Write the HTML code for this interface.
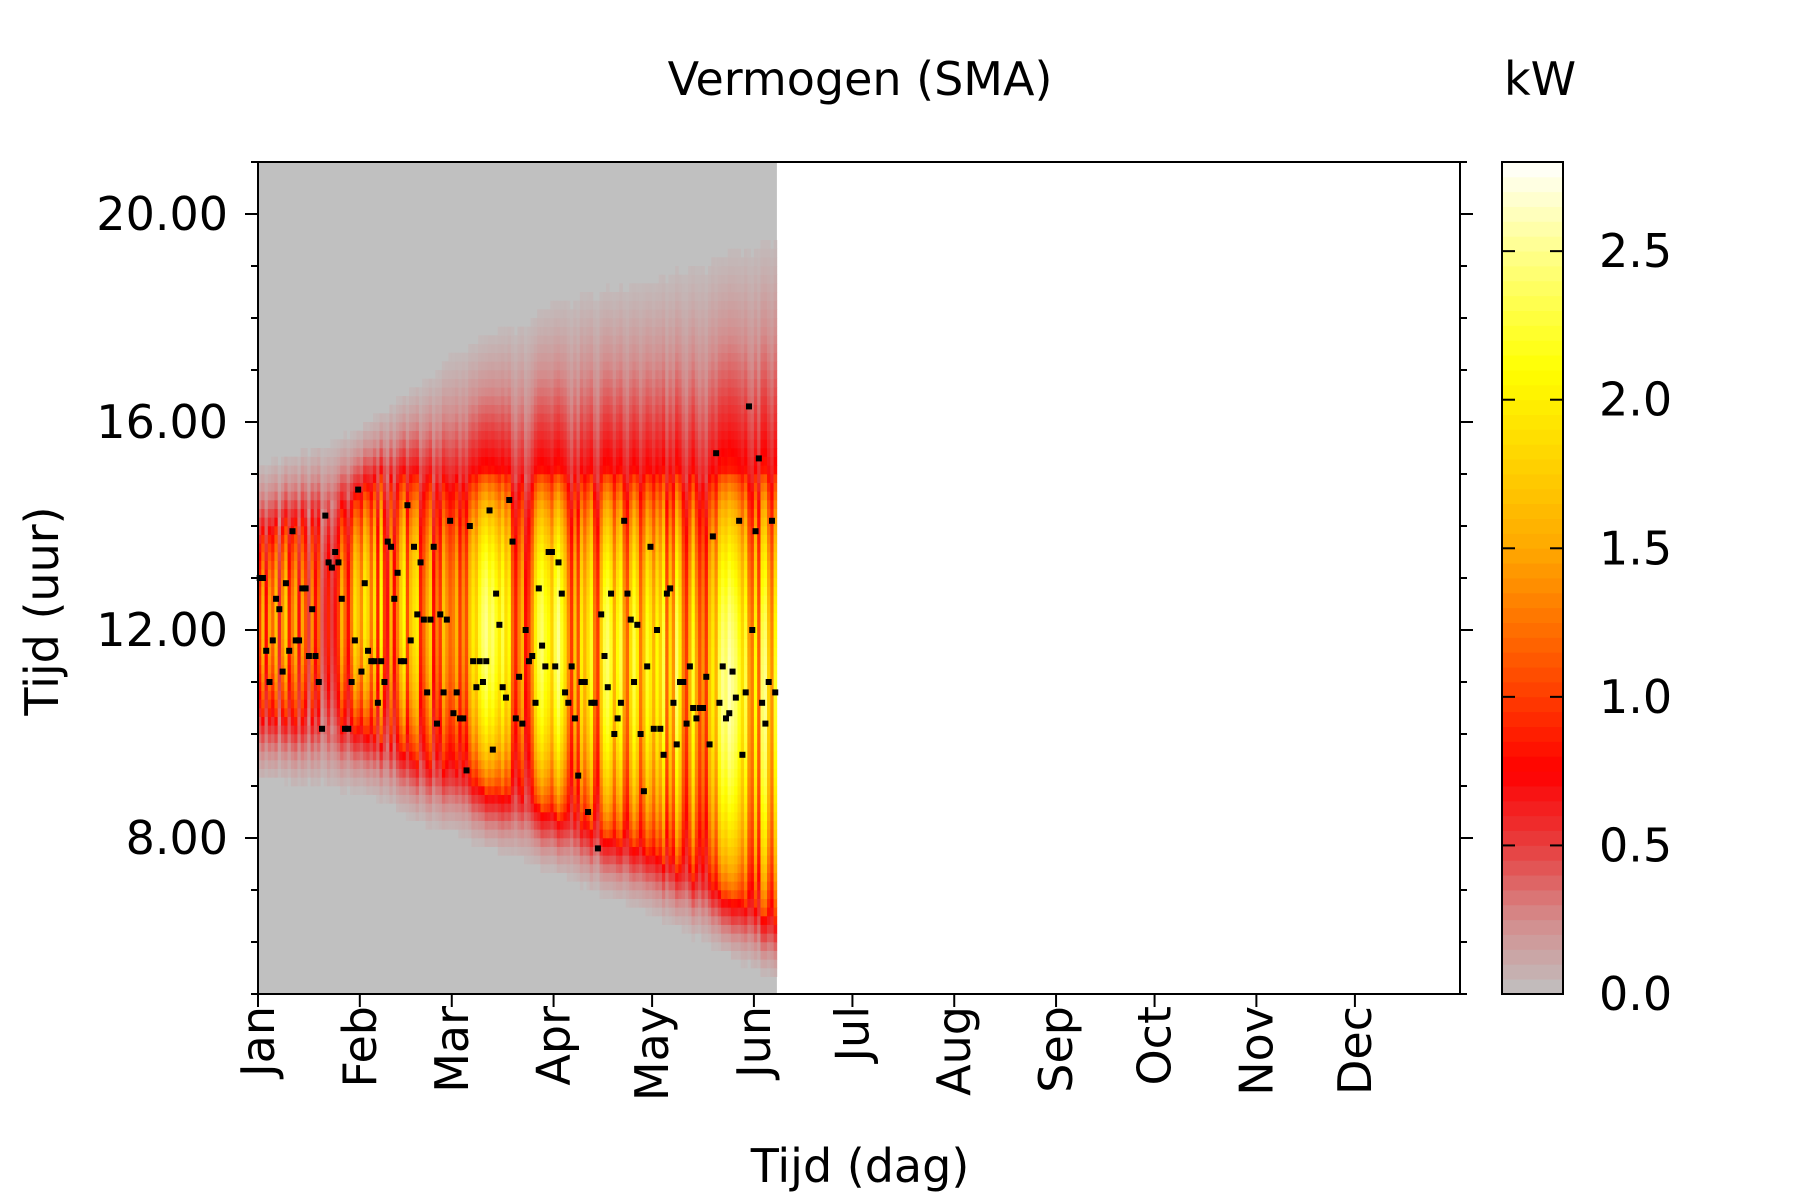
<!DOCTYPE html>
<html><head><meta charset="utf-8"><style>
html,body{margin:0;padding:0;background:#fff}
svg{display:block;font-family:"DejaVu Sans","Liberation Sans",sans-serif}
</style></head><body>
<svg id="chart" width="1800" height="1200" viewBox="0 0 1800 1200" xmlns="http://www.w3.org/2000/svg">
<text x="860" y="95" font-size="46" text-anchor="middle">Vermogen (SMA)</text>
<text x="1540" y="95" font-size="46" text-anchor="middle">kW</text>
<text transform="translate(58,611) rotate(-90)" font-size="46" text-anchor="middle">Tijd (uur)</text>
<text x="860" y="1182" font-size="46" text-anchor="middle">Tijd (dag)</text>
<g id="cells"></g>
<g id="dots"></g>
<g id="axes"></g>
<g id="cbar"></g>
</svg>
<script>
const months = ["Jan","Feb","Mar","Apr","May","Jun","Jul","Aug","Sep","Oct","Nov","Dec"];
const monthStartDays = [0,31,59,90,120,151,181,212,243,273,304,334];
const yTickHours = [8,12,16,20];
const yTickLabels = ["8.00","12.00","16.00","20.00"];
const cbarTicks = [0,0.5,1,1.5,2,2.5];
const cbarTickLabels = ["0.0","0.5","1.0","1.5","2.0","2.5"];
const riseHours = [8.9,8.9,8.9,8.9,8.9,8.9,8.9,8.9,8.9,8.9,8.8,8.8,8.8,8.8,8.8,8.8,8.8,8.8,8.8,8.8,8.8,8.7,8.7,8.7,8.7,8.7,8.7,8.7,8.7,8.7,8.7,
8.7,8.7,8.6,8.6,8.6,8.5,8.5,8.5,8.4,8.4,8.4,8.3,8.3,8.3,8.2,8.2,8.2,8.1,8.1,8.1,8.0,8.0,8.0,8.0,7.9,7.9,7.9,7.9,
7.9,7.9,7.8,7.8,7.8,7.8,7.7,7.7,7.7,7.7,7.6,7.6,7.6,7.6,7.5,7.5,7.5,7.5,7.4,7.4,7.4,7.4,7.3,7.3,7.3,7.3,7.3,7.2,7.2,7.2,7.2,
7.2,7.1,7.1,7.1,7.0,7.0,7.0,6.9,6.9,6.9,6.9,6.8,6.8,6.8,6.7,6.7,6.7,6.7,6.6,6.6,6.6,6.6,6.5,6.5,6.5,6.5,6.4,6.4,6.4,6.4,
6.3,6.3,6.3,6.2,6.2,6.2,6.1,6.1,6.1,6.0,6.0,6.0,5.9,5.9,5.9,5.8,5.8,5.8,5.7,5.7,5.7,5.6,5.6,5.6,5.5,5.5,5.5,5.4,5.4,5.4,5.3,
5.3,5.3,5.2,5.2,5.2,5.1,5.1];
const setHours = [15.4,15.4,15.4,15.4,15.5,15.5,15.5,15.5,15.6,15.6,15.6,15.6,15.6,15.7,15.7,15.7,15.7,15.8,15.8,15.8,15.8,15.8,15.9,15.9,15.9,15.9,16.0,16.0,16.0,16.0,16.1,
16.1,16.2,16.2,16.3,16.3,16.4,16.4,16.5,16.5,16.6,16.6,16.7,16.7,16.8,16.8,16.9,16.9,17.0,17.0,17.1,17.1,17.2,17.3,17.3,17.4,17.5,17.6,17.7,
17.7,17.7,17.8,17.8,17.8,17.9,17.9,17.9,18.0,18.0,18.0,18.1,18.1,18.1,18.2,18.2,18.2,18.3,18.3,18.3,18.4,18.4,18.4,18.5,18.5,18.5,18.6,18.6,18.7,18.7,18.8,
18.8,18.8,18.8,18.9,18.9,18.9,18.9,18.9,19.0,19.0,19.0,19.0,19.0,19.0,19.1,19.1,19.1,19.1,19.1,19.1,19.2,19.2,19.2,19.2,19.2,19.2,19.3,19.3,19.3,19.3,
19.3,19.3,19.4,19.4,19.4,19.4,19.5,19.5,19.5,19.5,19.6,19.6,19.6,19.6,19.7,19.7,19.7,19.7,19.8,19.8,19.8,19.8,19.8,19.9,19.9,19.9,19.9,19.9,20.0,20.0,20.0,
20.0,20.1,20.1,20.1,20.2,20.2,20.2];
const peakKw = [1.0,1.6,0.8,1.5,1.2,1.7,0.6,1.4,1.8,0.9,1.3,1.6,0.7,1.5,1.1,0.5,1.4,0.8,1.2,0.4,0.6,0.9,0.5,0.7,1.0,1.6,1.2,0.8,1.3,1.9,1.7,
1.4,2.0,1.8,1.3,1.9,0.9,2.1,1.0,0.7,1.6,0.8,1.3,1.8,2.1,1.1,1.7,1.9,2.0,0.9,1.2,1.5,1.8,0.8,1.3,1.0,1.7,1.4,1.2,
1.3,1.6,1.0,1.4,1.1,1.7,2.0,1.8,2.2,2.4,2.5,2.3,2.4,2.2,2.0,2.3,1.9,2.1,1.2,0.9,1.3,1.6,0.8,1.0,1.4,2.0,2.3,2.4,2.2,2.1,1.8,
2.3,2.5,2.2,1.9,1.4,1.0,1.7,1.1,2.0,1.6,1.9,2.2,1.3,1.0,1.8,2.3,2.4,2.2,1.6,2.1,2.3,1.5,1.2,1.9,2.3,2.0,1.3,1.7,2.2,2.0,
1.6,2.1,1.8,2.3,1.2,1.9,1.4,2.4,2.0,1.3,1.0,1.6,2.2,1.5,1.1,1.4,1.0,1.7,2.0,1.6,2.3,2.5,2.4,2.6,2.5,2.4,2.2,1.9,2.3,1.5,1.3,
2.1,1.2,2.4,2.5,1.8,1.4,2.2];
const peakTimes = [13.0,13.0,11.6,11.0,11.8,12.6,12.4,11.2,12.9,11.6,13.9,11.8,11.8,12.8,12.8,11.5,12.4,11.5,11.0,10.1,14.2,13.3,13.2,13.5,13.3,12.6,10.1,10.1,11.0,11.8,14.7,
11.2,12.9,11.6,11.4,11.4,10.6,11.4,11.0,13.7,13.6,12.6,13.1,11.4,11.4,14.4,11.8,13.6,12.3,13.3,12.2,10.8,12.2,13.6,10.2,12.3,10.8,12.2,14.1,
10.4,10.8,10.3,10.3,9.3,14.0,11.4,10.9,11.4,11.0,11.4,14.3,9.7,12.7,12.1,10.9,10.7,14.5,13.7,10.3,11.1,10.2,12.0,11.4,11.5,10.6,12.8,11.7,11.3,13.5,13.5,
11.3,13.3,12.7,10.8,10.6,11.3,10.3,9.2,11.0,11.0,8.5,10.6,10.6,7.8,12.3,11.5,10.9,12.7,10.0,10.3,10.6,14.1,12.7,12.2,11.0,12.1,10.0,8.9,11.3,13.6,
10.1,12.0,10.1,9.6,12.7,12.8,10.6,9.8,11.0,11.0,10.2,11.3,10.5,10.3,10.5,10.5,11.1,9.8,13.8,15.4,10.6,11.3,10.3,10.4,11.2,10.7,14.1,9.6,10.8,16.3,12.0,
13.9,15.3,10.6,10.2,11.0,14.1,10.8];

const NS="http://www.w3.org/2000/svg";
const PL=258, PR=1460, PT=162, PB=994, Y0=5, Y1=21, D1=366, VMAX=2.8;
const CBL=1502, CBR=1563;
const xScale = d => PL + (d / D1) * (PR - PL);
const yScale = h => PB - (h - Y0) / (Y1 - Y0) * (PB - PT);
const cScale = v => PB - (v / VMAX) * (PB - PT);
const stops=[[0,192,192,192],[0.25,212,140,140],[0.5,232,62,62],[0.75,255,0,0],[1.0,255,60,0],[1.25,255,115,0],[1.5,255,168,0],[1.8,255,212,0],[2.1,255,255,0],[2.5,255,255,140],[2.8,255,255,255]];
function color(v){
  v=Math.max(0,Math.min(VMAX,v));
  for(let i=1;i<stops.length;i++){
    if(v<=stops[i][0]){const a=stops[i-1],b=stops[i],t=(v-a[0])/(b[0]-a[0]);
      return `rgb(${Math.round(a[1]+t*(b[1]-a[1]))},${Math.round(a[2]+t*(b[2]-a[2]))},${Math.round(a[3]+t*(b[3]-a[3]))})`;}
  }
  return "#fff";
}
function mk(tag,attrs,parent){const e=document.createElementNS(NS,tag);for(const k in attrs)e.setAttribute(k,attrs[k]);parent.appendChild(e);return e;}

const cells=document.getElementById('cells');
const nDays=peakKw.length;
const bg=mk('rect',{x:xScale(0),y:PT,width:xScale(nDays)-xScale(0),height:PB-PT,fill:'rgb(192,192,192)'},cells);


const binH=1/6;
for(let d=0;d<nDays;d++){
  const r=riseHours[d], s=setHours[d], p=peakKw[d];
  const cs=r+1.3, ce=Math.min(15.0, s-1.4);
  const x0=xScale(d), w=xScale(d+1)-x0;
  for(let h=Y0;h<Y1-1e-9;h+=binH){
    const t=h+binH/2;
    if(t<=r||t>=s) continue;
    let v;
    if(t>=cs && t<=ce){
      const x=(t-cs)/(ce-cs);
      v=p*(0.4+0.6*Math.pow(Math.sin(Math.PI*x),0.7));
    } else {
      const u = t<cs ? (cs-t)/(cs-r) : (t-ce)/(s-ce);
      v=0.5*Math.pow(p,0.6)*Math.pow(1-u,1.6);
    }
    if(v<0.03) continue;
    const rc=document.createElementNS(NS,'rect');
    rc.setAttribute('x',x0.toFixed(2));
    rc.setAttribute('y',yScale(h+binH).toFixed(2));
    rc.setAttribute('width',(w+0.3).toFixed(2));
    rc.setAttribute('height',((PB-PT)/(Y1-Y0)*binH+0.3).toFixed(2));
    rc.setAttribute('fill',color(v));
    
    
    cells.appendChild(rc);
  }
}
const dots=document.getElementById('dots');
for(let d=0;d<nDays;d++){
  const rc=document.createElementNS(NS,'rect');
  rc.setAttribute('x',(xScale(d+0.5)-3).toFixed(2));
  rc.setAttribute('y',(yScale(peakTimes[d])-3).toFixed(2));
  rc.setAttribute('width',6);rc.setAttribute('height',6);rc.setAttribute('fill','#000');
  
  
  dots.appendChild(rc);
}
const axes=document.getElementById('axes');
const frame=mk('rect',{x:PL,y:PT,width:PR-PL,height:PB-PT,fill:'none',stroke:'#000','stroke-width':2},axes);


for(let h=Y0;h<=Y1;h++){
  const y=yScale(h), major=yTickHours.includes(h), L=major?13:7;
  mk('line',{x1:PL,x2:PL-L,y1:y,y2:y,stroke:'#000','stroke-width':2},axes);
  mk('line',{x1:PR,x2:PR+L,y1:y,y2:y,stroke:'#000','stroke-width':2},axes);
}
yTickHours.forEach((h,i)=>{
  const t=mk('text',{x:PL-30,y:yScale(h)+16,'font-size':46,'text-anchor':'end'},axes);
  t.textContent=yTickLabels[i];
  
  
});
monthStartDays.forEach((d,i)=>{
  const x=xScale(d);
  mk('line',{x1:x,x2:x,y1:PB,y2:PB+13,stroke:'#000','stroke-width':2},axes);
  const t=mk('text',{transform:`translate(${x+16},${PB+12}) rotate(-90)`,'font-size':46,'text-anchor':'end'},axes);
  t.textContent=months[i];
  
  
});
const cbar=document.getElementById('cbar');
for(let v=0;v<VMAX-1e-9;v+=0.05){
  const rc=document.createElementNS(NS,'rect');
  rc.setAttribute('x',CBL);rc.setAttribute('y',cScale(v+0.05).toFixed(2));
  rc.setAttribute('width',CBR-CBL);rc.setAttribute('height',((PB-PT)/VMAX*0.05+0.4).toFixed(2));
  rc.setAttribute('fill',color(v+0.025));
  
  
  cbar.appendChild(rc);
}
const cbf=mk('rect',{x:CBL,y:PT,width:CBR-CBL,height:PB-PT,fill:'none',stroke:'#000','stroke-width':2},cbar);


cbarTicks.forEach((v,i)=>{
  const y=cScale(v);
  mk('line',{x1:CBL,x2:CBL+13,y1:y,y2:y,stroke:'#000','stroke-width':2},cbar);
  mk('line',{x1:CBR,x2:CBR-13,y1:y,y2:y,stroke:'#000','stroke-width':2},cbar);
  const t=mk('text',{x:1599,y:y+16,'font-size':46},cbar);
  t.textContent=cbarTickLabels[i];
  
  
});
</script>
</body></html>
